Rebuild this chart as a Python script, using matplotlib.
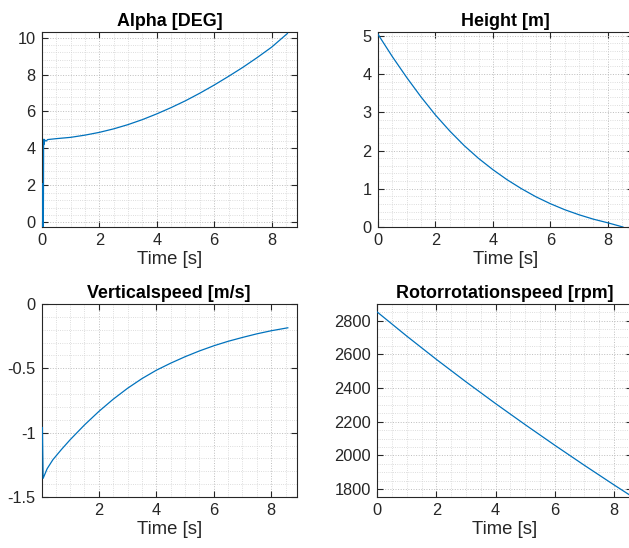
import matplotlib
matplotlib.use('Agg')
import matplotlib.pyplot as plt
from matplotlib.ticker import MultipleLocator

plt.rcParams['font.family'] = ['Liberation Sans', 'DejaVu Sans']

# values
t_alpha = [0.02, 0.025, 0.03, 0.035, 0.04, 0.045, 0.05, 0.055, 0.06, 0.065, 0.07, 0.08, 0.1, 0.15, 0.2,
           0.5, 1, 1.5, 2, 2.5, 3, 3.5, 4, 4.5, 5, 5.5, 6, 6.5, 7, 7.5, 8, 8.55]
alpha = [0, 2.1, -0.25, 2.0, -0.2, 1.9, -0.2, 2.0, 4.4, 4.2, 4.5, 4.3, 4.45, 4.4, 4.48,
         4.53, 4.6, 4.72, 4.87, 5.06, 5.29, 5.56, 5.87, 6.21, 6.58, 6.99, 7.43, 7.9, 8.39, 8.92, 9.48, 10.22]

t_height = [0, 0.5, 1, 1.5, 2, 2.5, 3, 3.5, 4, 4.5, 5, 5.5, 6, 6.5, 7, 7.5, 8, 8.53]
height = [5.04, 4.455, 3.91, 3.40, 2.93, 2.51, 2.13, 1.795, 1.50, 1.234, 1.00, 0.79, 0.61,
          0.453, 0.32, 0.205, 0.11, 0.0]

t_vs = [0.035, 0.06, 0.2, 0.4, 0.7, 1, 1.5, 2, 2.5, 3, 3.5, 4, 4.5, 5, 5.5, 6, 6.5, 7, 7.5, 8, 8.58]
vspeed = [-0.96, -1.355, -1.28, -1.21, -1.13, -1.055, -0.94, -0.835, -0.74, -0.655, -0.58,
          -0.515, -0.46, -0.41, -0.365, -0.325, -0.29, -0.26, -0.232, -0.208, -0.185]

t_rot = [0, 1, 2, 3, 4, 5, 6, 7, 8, 8.6]
rotor = [2850, 2707, 2569, 2436, 2307, 2182, 2060, 1941, 1825, 1757]

blue = '#0072BD'
dark = '#262626'

W, H = 629, 548
fig = plt.figure(figsize=(W / 100, H / 100), dpi=100)


def make_ax(l, t, w, h):
    return fig.add_axes([l / W, 1 - (t + h) / H, w / W, h / H])


def style(ax, title, xmaj, xmin_, ymaj, ymin_):
    ax.set_title(title, fontsize=12.9, fontweight='bold', color='black', pad=4)
    ax.set_xlabel('Time [s]', fontsize=13.3, color=dark, labelpad=2)
    ax.xaxis.set_major_locator(MultipleLocator(xmaj))
    ax.xaxis.set_minor_locator(MultipleLocator(xmin_))
    ax.yaxis.set_major_locator(MultipleLocator(ymaj))
    ax.yaxis.set_minor_locator(MultipleLocator(ymin_))
    ax.tick_params(which='both', direction='in', top=True, right=True, colors=dark,
                   labelsize=11.8, width=0.8)
    ax.tick_params(which='major', length=4, pad=4.5)
    ax.tick_params(which='minor', length=0)
    ax.grid(which='major', linestyle=':', color='#bdbdbd', linewidth=0.7)
    ax.grid(which='minor', linestyle=':', color='#d2d2d2', linewidth=0.6)
    for s in ax.spines.values():
        s.set_color(dark)
        s.set_linewidth(0.8)


ax1 = make_ax(41.9, 32, 255, 195)
ax1.plot(t_alpha, alpha, color=blue, lw=0.9, zorder=3)
ax1.set_xlim(0, 8.88)
ax1.set_ylim(-0.25, 10.3)
style(ax1, 'Alpha [DEG]', 2, 0.5, 2, 0.4)

ax2 = make_ax(378, 32, 255, 195)
ax2.plot(t_height, height, color=blue, lw=0.9, zorder=3)
ax2.set_xlim(0, 8.88)
ax2.set_ylim(0, 5.1)
style(ax2, 'Height [m]', 2, 0.5, 1, 0.2)

ax3 = make_ax(41.7, 304, 255, 193)
ax3.plot(t_vs, vspeed, color=blue, lw=0.9, zorder=3)
ax3.set_xlim(0.01, 8.89)
ax3.set_ylim(-1.5, 0)
style(ax3, 'Verticalspeed [m/s]', 2, 0.5, 0.5, 0.1)
ax3.set_yticks([-1.5, -1, -0.5, 0])
ax3.set_yticklabels(['-1.5', '-1', '-0.5', '0'])

ax4 = make_ax(377.3, 304, 255, 193)
ax4.plot(t_rot, rotor, color=blue, lw=0.9, zorder=3)
ax4.set_xlim(0, 8.62)
ax4.set_ylim(1753, 2898)
style(ax4, 'Rotorrotationspeed [rpm]', 2, 0.5, 200, 50)

fig.savefig('out.png', dpi=100)
